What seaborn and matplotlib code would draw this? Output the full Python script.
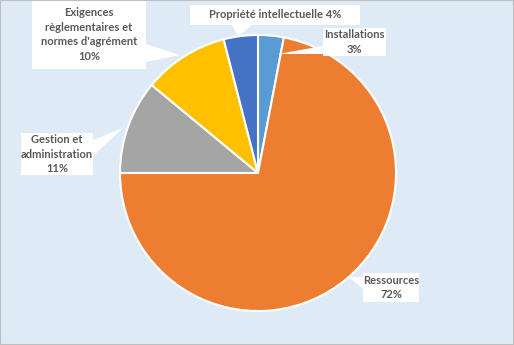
import matplotlib
matplotlib.use("Agg")
import matplotlib.pyplot as plt
import seaborn as sns
from matplotlib.patches import Polygon, Rectangle

# ---- data ----
categories = ["Installations", "Ressources", "Gestion et\nadministration",
              "Exigences\nrèglementaires et\nnormes d'agrément", "Propriété intellectuelle"]
values = [3, 72, 11, 10, 4]
colors = ["#5B9BD5", "#ED7D31", "#A5A5A5", "#FFC000", "#4472C4"]
label_sep = ["\n", "\n", "\n", "\n", " "]

# ---- layout (pixel coords, origin top-left) ----
W, H = 514, 345
center = (258, 173)
radius = 138
# boxes: x0, y0, x1, y1
boxes = [(323, 28, 386, 56), (363, 273, 419, 302), (21, 133, 93, 175),
         (32, 0, 146, 69), (190, 5, 360, 25)]
# pointer triangles: base point a, base point b, tip
pointers = [((323, 46), (323, 54), (278, 54)),
            ((363, 277), (363, 289), (349, 277)),
            ((93, 140), (93, 156), (123, 128)),
            ((146, 44), (146, 62), (180, 55)),
            ((232, 25), (252, 25), (238, 36))]

sns.set_theme(style="white")
plt.rcParams['font.family'] = ['Lato', 'DejaVu Sans']

fig = plt.figure(figsize=(W / 100, H / 100), dpi=100)
fig.patch.set_facecolor("#DEEBF7")
ax = fig.add_axes([0, 0, 1, 1])
ax.set_facecolor("#DEEBF7")

ax.pie(values, colors=colors, startangle=90, counterclock=False,
       center=(center[0], H - center[1]), radius=radius,
       wedgeprops=dict(edgecolor="white", linewidth=1.5))
ax.set_xlim(0, W)
ax.set_ylim(0, H)
ax.set_aspect("equal")
ax.axis("off")

for cat, v, sep, (x0, y0, x1, y1), tri in zip(categories, values, label_sep, boxes, pointers):
    ax.add_patch(Polygon([(p[0], H - p[1]) for p in tri], closed=True,
                         facecolor="white", edgecolor="none", zorder=3))
    ax.add_patch(Rectangle((x0, H - y1), x1 - x0, y1 - y0, facecolor="white",
                           edgecolor="none", zorder=4))
    ax.text((x0 + x1) / 2, H - (y0 + y1) / 2, f"{cat}{sep}{v}%", ha="center", va="center",
            fontsize=8, fontweight="bold", color="#595959", zorder=5, linespacing=1.4)

fig.add_artist(Rectangle((0, 0), 1, 1, transform=fig.transFigure, fill=False,
                         edgecolor="#BFBFBF", linewidth=1.5))

fig.savefig("out.png", dpi=100, facecolor=fig.get_facecolor())
